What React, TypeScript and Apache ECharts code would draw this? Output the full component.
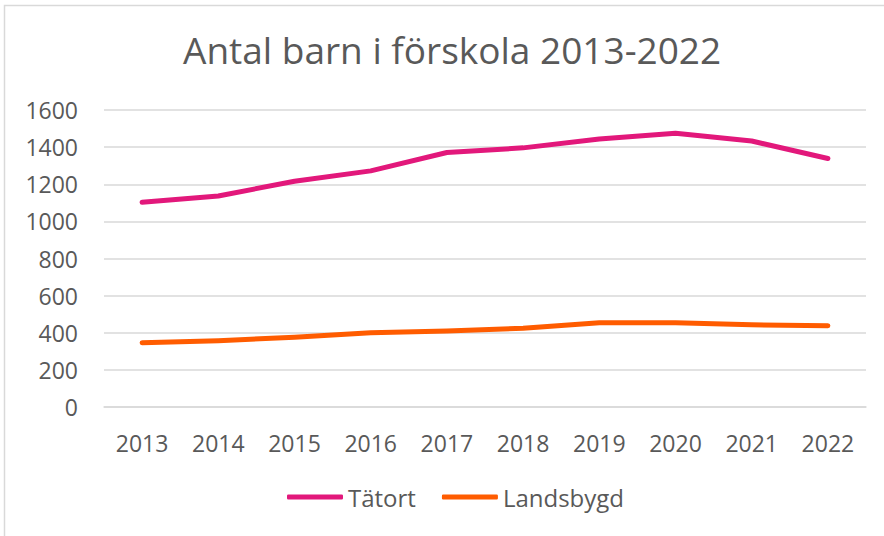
import React, { useEffect, useRef } from "react";
import * as echarts from "echarts";

const years = ["2013", "2014", "2015", "2016", "2017", "2018", "2019", "2020", "2021", "2022"];
const tatort = [1103, 1137, 1216, 1272, 1371, 1396, 1444, 1475, 1433, 1339];
const landsbygd = [346, 357, 376, 400, 410, 424, 454, 454, 443, 438];
const titleText = "Antal barn i förskola 2013-2022";
const seriesNames = ["Tätort", "Landsbygd"];
const colors = ["#E2187B", "#FF5C00"];

export default function App() {
  const ref = useRef<HTMLDivElement>(null);
  useEffect(() => {
    if (!ref.current) return;
    const chart = echarts.init(ref.current, null, { renderer: "svg" });
    const font = "'Open Sans', 'Noto Sans', sans-serif";
    chart.setOption({
      animation: false,
      textStyle: { fontFamily: font },
      title: {
        text: titleText,
        left: 178,
        top: 26,
        textStyle: { fontFamily: font, fontSize: 37, fontWeight: "normal", color: "#595959" },
      },
      graphic: [
        {
          type: "rect",
          shape: { x: 4.5, y: 5.5, width: 900, height: 600 },
          style: { fill: "none", stroke: "#d9d9d9", lineWidth: 1.5 },
          silent: true,
        },
      ],
      grid: { left: 104, right: 18, top: 110, bottom: 129 },
      legend: {
        bottom: 22,
        left: 282,
        itemWidth: 56,
        itemHeight: 5,
        itemGap: 26,
        icon: "roundRect",
        textStyle: { fontFamily: font, fontSize: 24, color: "#595959", padding: [0, 0, 0, 0] },
        data: seriesNames,
      },
      xAxis: {
        type: "category",
        data: years,
        boundaryGap: true,
        axisLine: { show: true, lineStyle: { color: "#d9d9d9", width: 1.5 } },
        axisTick: { show: false },
        axisLabel: { fontFamily: font, fontSize: 23, color: "#595959", margin: 24 },
      },
      yAxis: {
        type: "value",
        min: 0,
        max: 1600,
        interval: 200,
        axisLine: { show: false },
        axisTick: { show: false },
        axisLabel: {
          fontFamily: font,
          fontSize: 23,
          color: "#595959",
          margin: 26,
          formatter: (v: number) => String(v),
        },
        splitLine: { lineStyle: { color: "#d9d9d9", width: 1.5 } },
      },
      series: [
        {
          name: seriesNames[0],
          type: "line",
          data: tatort,
          symbol: "none",
          lineStyle: { color: colors[0], width: 5, cap: "round", join: "round" },
          itemStyle: { color: colors[0] },
        },
        {
          name: seriesNames[1],
          type: "line",
          data: landsbygd,
          symbol: "none",
          lineStyle: { color: colors[1], width: 5, cap: "round", join: "round" },
          itemStyle: { color: colors[1] },
        },
      ],
    });
    return () => chart.dispose();
  }, []);
  return <div ref={ref} style={{ position: "absolute", left: 0, top: 0, width: 884, height: 536 }} />;
}
